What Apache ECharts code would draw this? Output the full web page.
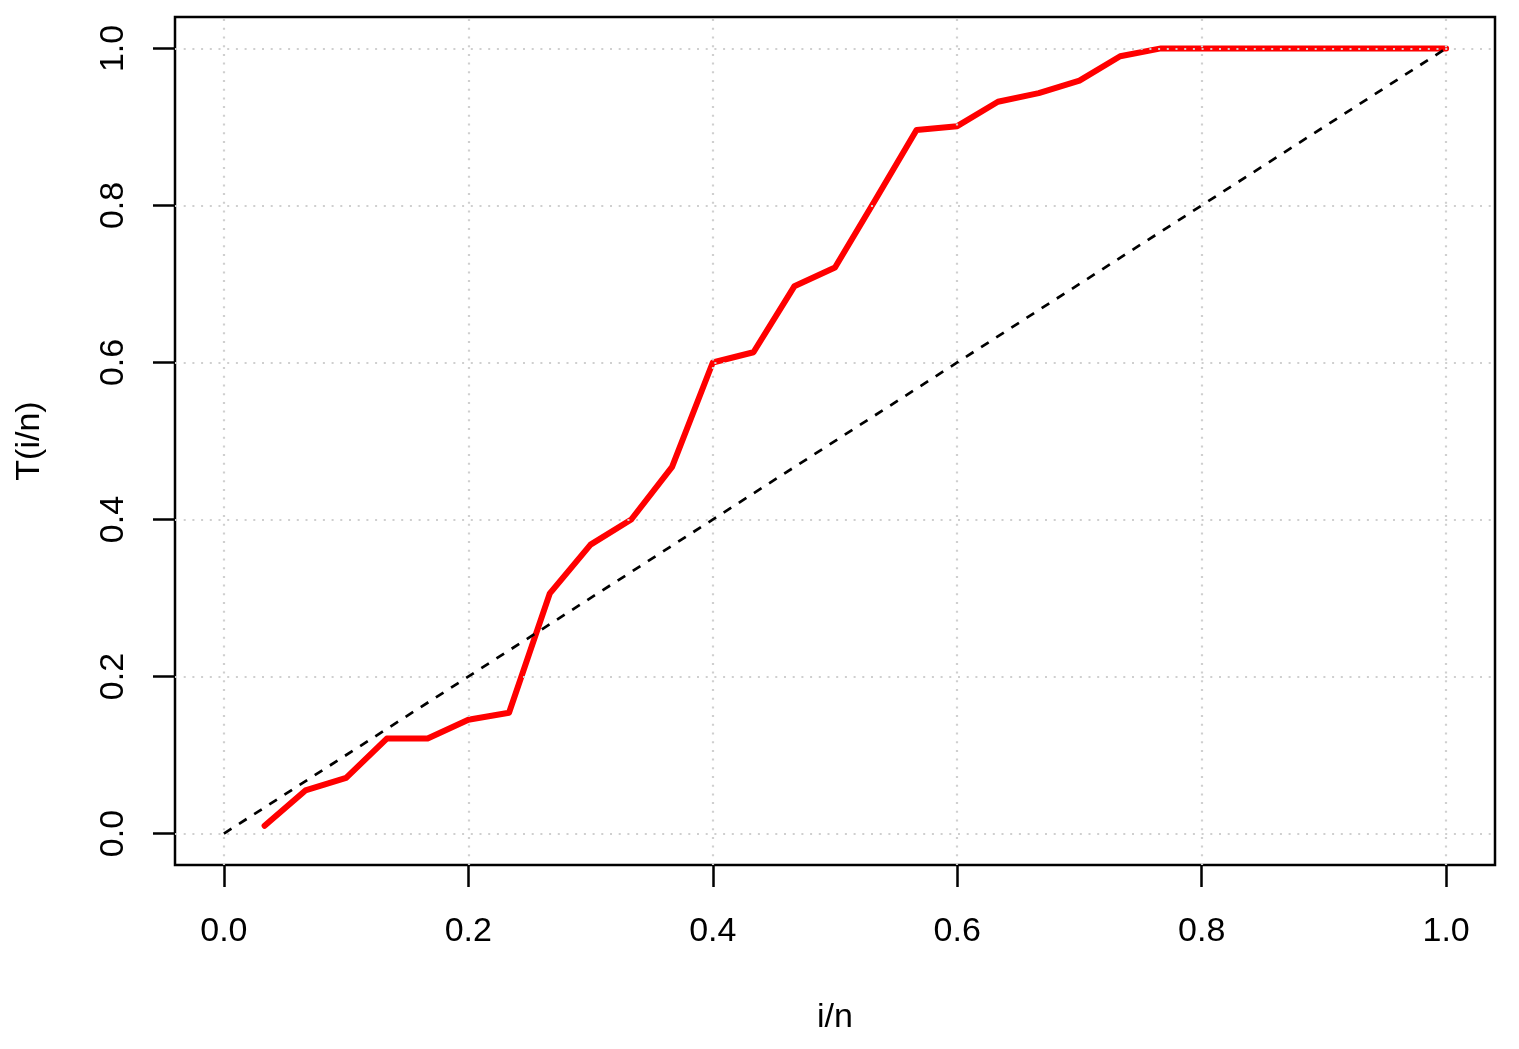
<!DOCTYPE html>
<html>
<head>
<meta charset="utf-8">
<script src="https://cdn.jsdelivr.net/npm/echarts@6/dist/echarts.min.js"></script>
<style>
  html, body { margin: 0; padding: 0; background: #fff; }
  #chart { width: 1519px; height: 1049px; }
</style>
</head>
<body>
<div id="chart"></div>
<script>
// i/n positions and the T(i/n) curve
const xValues = [0.0333, 0.0667, 0.1, 0.1333, 0.1667, 0.2, 0.2333, 0.2667, 0.3, 0.3333,
                 0.3667, 0.4, 0.4333, 0.4667, 0.5, 0.5333, 0.5667, 0.6, 0.6333, 0.6667,
                 0.7, 0.7333, 0.7667, 0.8, 0.8333, 0.8667, 0.9, 0.9333, 0.9667, 1.0];
const tValues = [0.010, 0.055, 0.071, 0.121, 0.121, 0.145, 0.154, 0.306, 0.368, 0.400,
                 0.467, 0.600, 0.613, 0.697, 0.721, 0.808, 0.896, 0.901, 0.932, 0.943,
                 0.959, 0.990, 1.0, 1.0, 1.0, 1.0, 1.0, 1.0, 1.0, 1.0];
// reference diagonal T = i/n
const diagX = [0, 1];
const diagY = [0, 1];
const tickValues = [0, 0.2, 0.4, 0.6, 0.8, 1.0];
const tickLabels = ['0.0', '0.2', '0.4', '0.6', '0.8', '1.0'];

const font = "'Liberation Sans', Arial, Helvetica, sans-serif";

function axisCommon(name, nameGap, labelMargin) {
  return {
    type: 'value',
    min: -0.04,
    max: 1.04,
    name: name,
    nameLocation: 'middle',
    nameGap: nameGap,
    nameTextStyle: { fontFamily: font, fontSize: 34, color: '#000' },
    axisLine: { show: false, onZero: false },
    axisTick: {
      show: true,
      inside: false,
      length: 22,
      customValues: tickValues,
      lineStyle: { color: '#000', width: 2.5 }
    },
    axisLabel: {
      customValues: tickValues,
      margin: labelMargin,
      fontFamily: font,
      fontSize: 34,
      color: '#000',
      formatter: function (v) {
        const i = tickValues.indexOf(Math.round(v * 10) / 10);
        return i >= 0 ? tickLabels[i] : '';
      }
    },
    splitLine: { show: false }
  };
}

// dotted grid drawn like grid() in R, above the curve
const gridStyle = { color: '#cfcfcf', width: 2.2, type: [2, 6.7] };
const gridLines = [];
tickValues.forEach(function (v) {
  gridLines.push({ xAxis: v });
  gridLines.push({ yAxis: v });
});

const xAxis = axisCommon('i/n', 136, 50);
const yAxis = axisCommon('T(i/n)', 128, 44);
yAxis.axisLabel.rotate = 90;

const option = {
  animation: false,
  backgroundColor: '#fff',
  grid: {
    left: 175,
    right: 24,
    top: 17,
    bottom: 184,
    show: true,
    borderColor: '#000',
    borderWidth: 2.5,
    backgroundColor: 'transparent'
  },
  xAxis: xAxis,
  yAxis: yAxis,
  series: [
    {
      name: 'T',
      type: 'line',
      showSymbol: false,
      z: 2,
      lineStyle: { color: '#ff0000', width: 6, cap: 'round', join: 'round' },
      data: xValues.map(function (x, i) { return [x, tValues[i]]; }),
      markLine: {
        silent: true,
        symbol: 'none',
        label: { show: false },
        lineStyle: gridStyle,
        z: 5,
        data: gridLines
      }
    },
    {
      name: 'diag',
      type: 'line',
      showSymbol: false,
      z: 6,
      lineStyle: { color: '#000', width: 2.7, type: [9, 9] },
      data: diagX.map(function (x, i) { return [x, diagY[i]]; })
    }
  ]
};

const chart = echarts.init(document.getElementById('chart'), null, { renderer: 'canvas' });
chart.setOption(option);
</script>
</body>
</html>
